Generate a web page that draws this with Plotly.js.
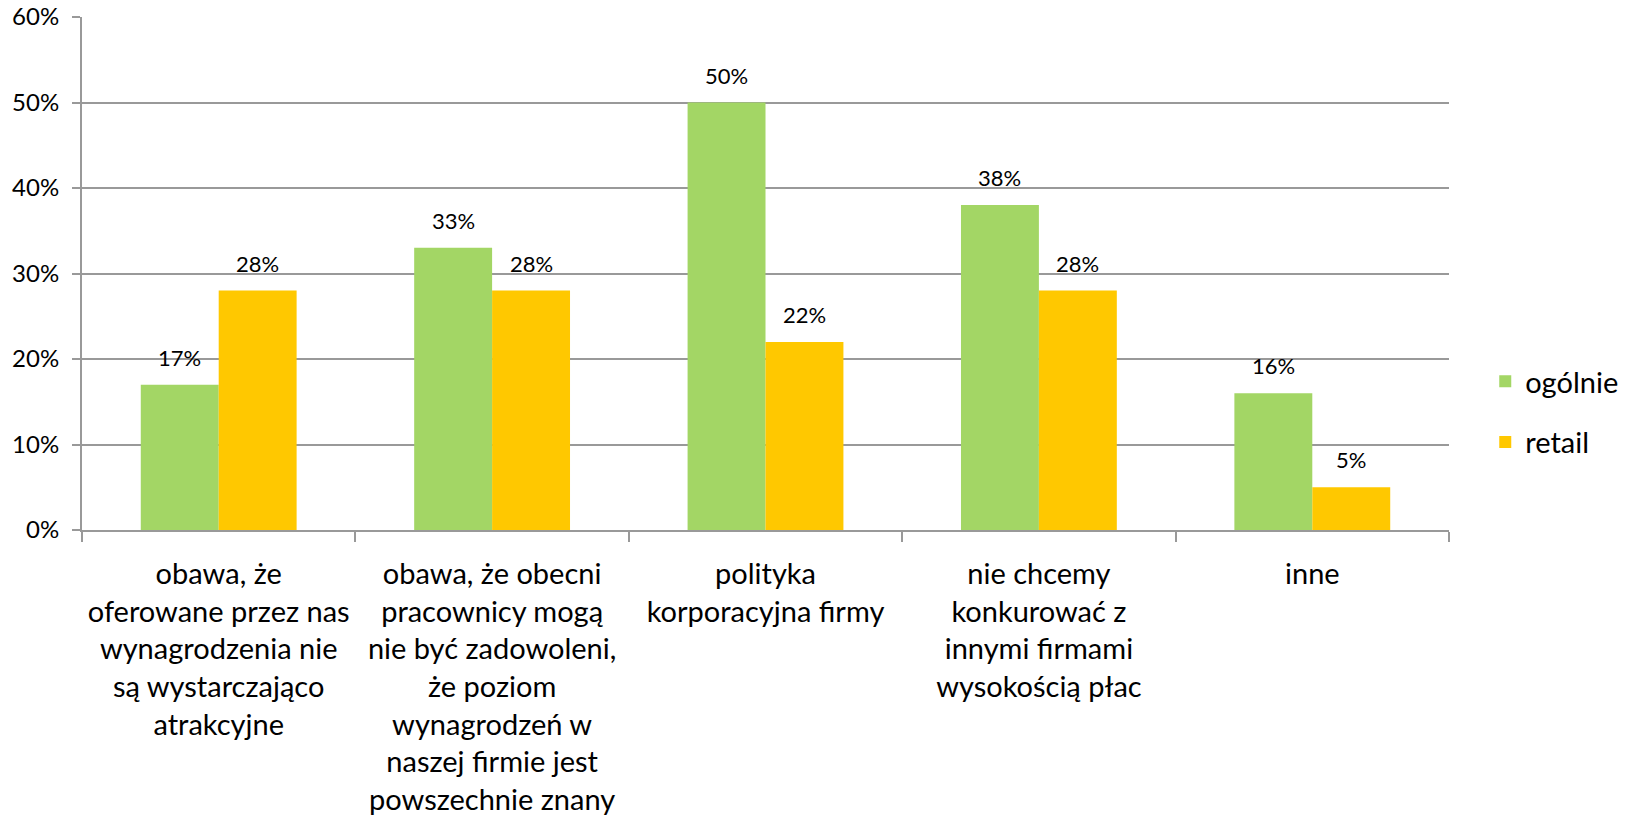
<!DOCTYPE html>
<html><head><meta charset="utf-8">
<script src="https://cdn.plot.ly/plotly-3.0.1.min.js"></script>
<style>html,body{margin:0;padding:0;background:#fff}#chart{width:1625px;height:816px}</style>
</head><body><div id="chart"></div>
<script>
const categories = [
  "obawa, że<br>oferowane przez nas<br>wynagrodzenia nie<br>są wystarczająco<br>atrakcyjne",
  "obawa, że obecni<br>pracownicy mogą<br>nie być zadowoleni,<br>że poziom<br>wynagrodzeń w<br>naszej firmie jest<br>powszechnie znany",
  "polityka<br>korporacyjna firmy",
  "nie chcemy<br>konkurować z<br>innymi firmami<br>wysokością płac",
  "inne"
];
const ogolnie = [0.17, 0.33, 0.50, 0.38, 0.16];
const retail = [0.28, 0.28, 0.22, 0.28, 0.05];
const seriesNames = ["ogólnie", "retail"];
const colors = ["#a3d665", "#ffc800"];
const FONT = "Lato, 'Open Sans', sans-serif";
const pct = v => Math.round(v*100) + "%";

const W = 1625, H = 816, M = {l:82, r:176, t:17, b:286};
const bargap = 0.43;
const catW = (W - M.l - M.r) / categories.length;
const barW = catW * (1 - bargap) / 2;

const series = [ogolnie, retail];
const traces = series.map((vals, i) => ({
  type:"bar", name:seriesNames[i], legendgroup:"g" + i, x:categories, y:vals, marker:{color:colors[i]}
}));
const annotations = [];
series.forEach((vals, i) => {
  vals.forEach((v, j) => {
    annotations.push({x:categories[j], y:v, xref:"x", yref:"y", text:pct(v), showarrow:false,
      xanchor:"center", yanchor:"bottom", xshift:(i === 0 ? -1 : 1) * barW / 2, yshift:12,
      font:{family:FONT, size:22, color:"#000"}});
  });
});
const layout = {
  width:W, height:H, margin:M,
  paper_bgcolor:"#fff", plot_bgcolor:"#fff",
  font:{family:FONT, color:"#000"},
  barmode:"group", bargap:bargap, bargroupgap:0,
  showlegend:true,
  legend:{xref:"container", yref:"container", x:0.914, y:(H-412)/H, xanchor:"left", yanchor:"middle",
          font:{size:29, family:FONT}, tracegroupgap:20, itemwidth:20, bgcolor:"rgba(0,0,0,0)", borderwidth:0},
  annotations:annotations,
  xaxis:{type:"category", showgrid:false, showline:true, linecolor:"#999", linewidth:2,
         ticks:"outside", tickson:"boundaries", ticklen:10, tickcolor:"#999", tickwidth:2, tickangle:0,
         tickfont:{size:29, family:FONT}, ticklabelstandoff:17, automargin:false},
  yaxis:{range:[0,0.6], dtick:0.1, tickformat:".0%", showgrid:true, gridcolor:"#999", gridwidth:2,
         showline:true, linecolor:"#999", linewidth:2, ticks:"outside", ticklen:8, tickcolor:"#999", tickwidth:2,
         tickfont:{size:24, family:FONT}, ticklabelstandoff:8, zeroline:false, automargin:false}
};
Plotly.newPlot("chart", traces, layout, {displayModeBar:false, staticPlot:true});
</script></body></html>
